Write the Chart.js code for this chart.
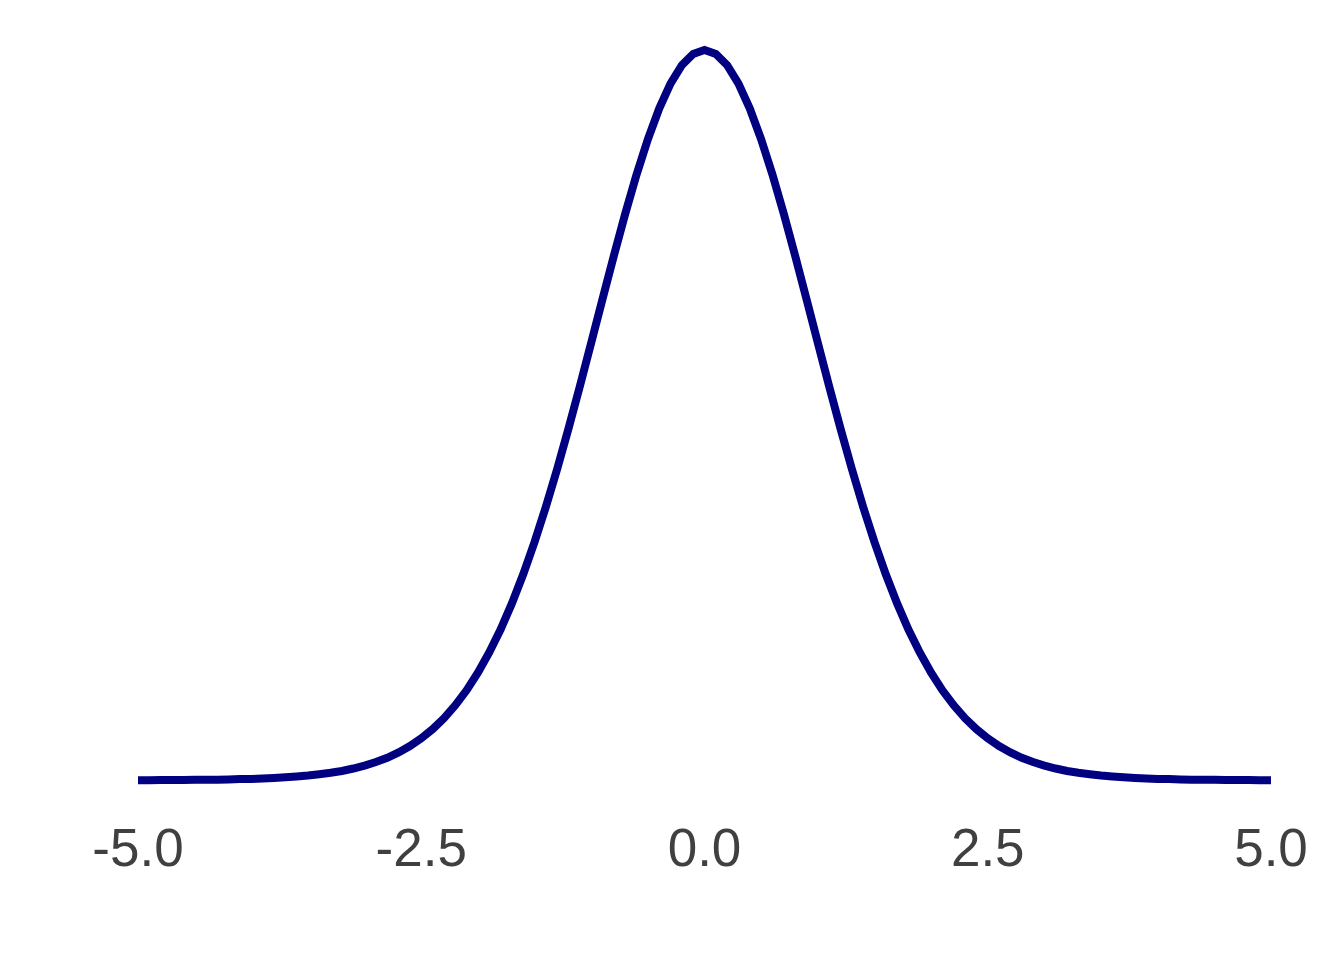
<!DOCTYPE html>
<html>
<head>
<meta charset="utf-8">
<title>Density curve</title>
<script src="https://cdn.jsdelivr.net/npm/chart.js@4/dist/chart.umd.min.js"></script>
<style>
  html, body { margin: 0; padding: 0; background: #ffffff; }
  #wrap { width: 1344px; height: 960px; }
</style>
</head>
<body>
<div id="wrap"><canvas id="chart" width="1344" height="960"></canvas></div>
<script>
// x positions of the curve (step 0.1)
const xValues = [
  -5.0, -4.9, -4.8, -4.7, -4.6, -4.5, -4.4, -4.3, -4.2, -4.1,
  -4.0, -3.9, -3.8, -3.7, -3.6, -3.5, -3.4, -3.3, -3.2, -3.1,
  -3.0, -2.9, -2.8, -2.7, -2.6, -2.5, -2.4, -2.3, -2.2, -2.1,
  -2.0, -1.9, -1.8, -1.7, -1.6, -1.5, -1.4, -1.3, -1.2, -1.1,
  -1.0, -0.9, -0.8, -0.7, -0.6, -0.5, -0.4, -0.3, -0.2, -0.1,
  0.0,
  0.1, 0.2, 0.3, 0.4, 0.5, 0.6, 0.7, 0.8, 0.9, 1.0,
  1.1, 1.2, 1.3, 1.4, 1.5, 1.6, 1.7, 1.8, 1.9, 2.0,
  2.1, 2.2, 2.3, 2.4, 2.5, 2.6, 2.7, 2.8, 2.9, 3.0,
  3.1, 3.2, 3.3, 3.4, 3.5, 3.6, 3.7, 3.8, 3.9, 4.0,
  4.1, 4.2, 4.3, 4.4, 4.5, 4.6, 4.7, 4.8, 4.9, 5.0
];

// density values estimated from the curve
const densityValues = [
  0.0001, 0.0001, 0.0002, 0.0002, 0.0002, 0.0003, 0.0003, 0.0004, 0.0005, 0.0007,
  0.0008, 0.0010, 0.0013, 0.0017, 0.0021, 0.0026, 0.0033, 0.0041, 0.0051, 0.0064,
  0.0080, 0.0099, 0.0122, 0.0151, 0.0185, 0.0227, 0.0276, 0.0335, 0.0405, 0.0486,
  0.0581, 0.0690, 0.0814, 0.0955, 0.1112, 0.1286, 0.1476, 0.1681, 0.1899, 0.2126,
  0.2361, 0.2597, 0.2830, 0.3056, 0.3267, 0.3458, 0.3624, 0.3759, 0.3858, 0.3919,
  0.3940,
  0.3919, 0.3858, 0.3759, 0.3624, 0.3458, 0.3267, 0.3056, 0.2830, 0.2597, 0.2361,
  0.2126, 0.1899, 0.1681, 0.1476, 0.1286, 0.1112, 0.0955, 0.0814, 0.0690, 0.0581,
  0.0486, 0.0405, 0.0335, 0.0276, 0.0227, 0.0185, 0.0151, 0.0122, 0.0099, 0.0080,
  0.0064, 0.0051, 0.0041, 0.0033, 0.0026, 0.0021, 0.0017, 0.0013, 0.0010, 0.0008,
  0.0007, 0.0005, 0.0004, 0.0003, 0.0003, 0.0002, 0.0002, 0.0002, 0.0001, 0.0001
];

// tick positions on the x axis
const xTicks = [-5.0, -2.5, 0.0, 2.5, 5.0];

const points = xValues.map((x, i) => ({ x: x, y: densityValues[i] }));

const ctx = document.getElementById('chart').getContext('2d');
new Chart(ctx, {
  type: 'line',
  data: {
    datasets: [{
      data: points,
      borderColor: '#000080',
      borderWidth: 8,
      pointRadius: 0,
      tension: 0,
      fill: false,
      clip: false
    }]
  },
  options: {
    responsive: false,
    animation: false,
    layout: {
      padding: { left: 138, right: 73, top: 50, bottom: 38 }
    },
    plugins: {
      legend: { display: false },
      tooltip: { enabled: false }
    },
    scales: {
      x: {
        type: 'linear',
        min: -5,
        max: 5,
        afterBuildTicks: (axis) => {
          axis.ticks = xTicks.map(v => ({ value: v }));
        },
        // let the layout padding alone decide where the plot ends
        afterFit: (axis) => {
          axis.paddingLeft = 0;
          axis.paddingRight = 0;
        },
        ticks: {
          color: '#404040',
          padding: 39,
          font: { family: 'Liberation Sans, Arial, sans-serif', size: 53 },
          callback: (v) => Number(v).toFixed(1),
          maxRotation: 0,
          autoSkip: false
        },
        grid: { display: false, drawTicks: false },
        border: { display: false }
      },
      y: {
        display: false,
        min: 0,
        max: 0.394
      }
    }
  }
});
</script>
</body>
</html>
